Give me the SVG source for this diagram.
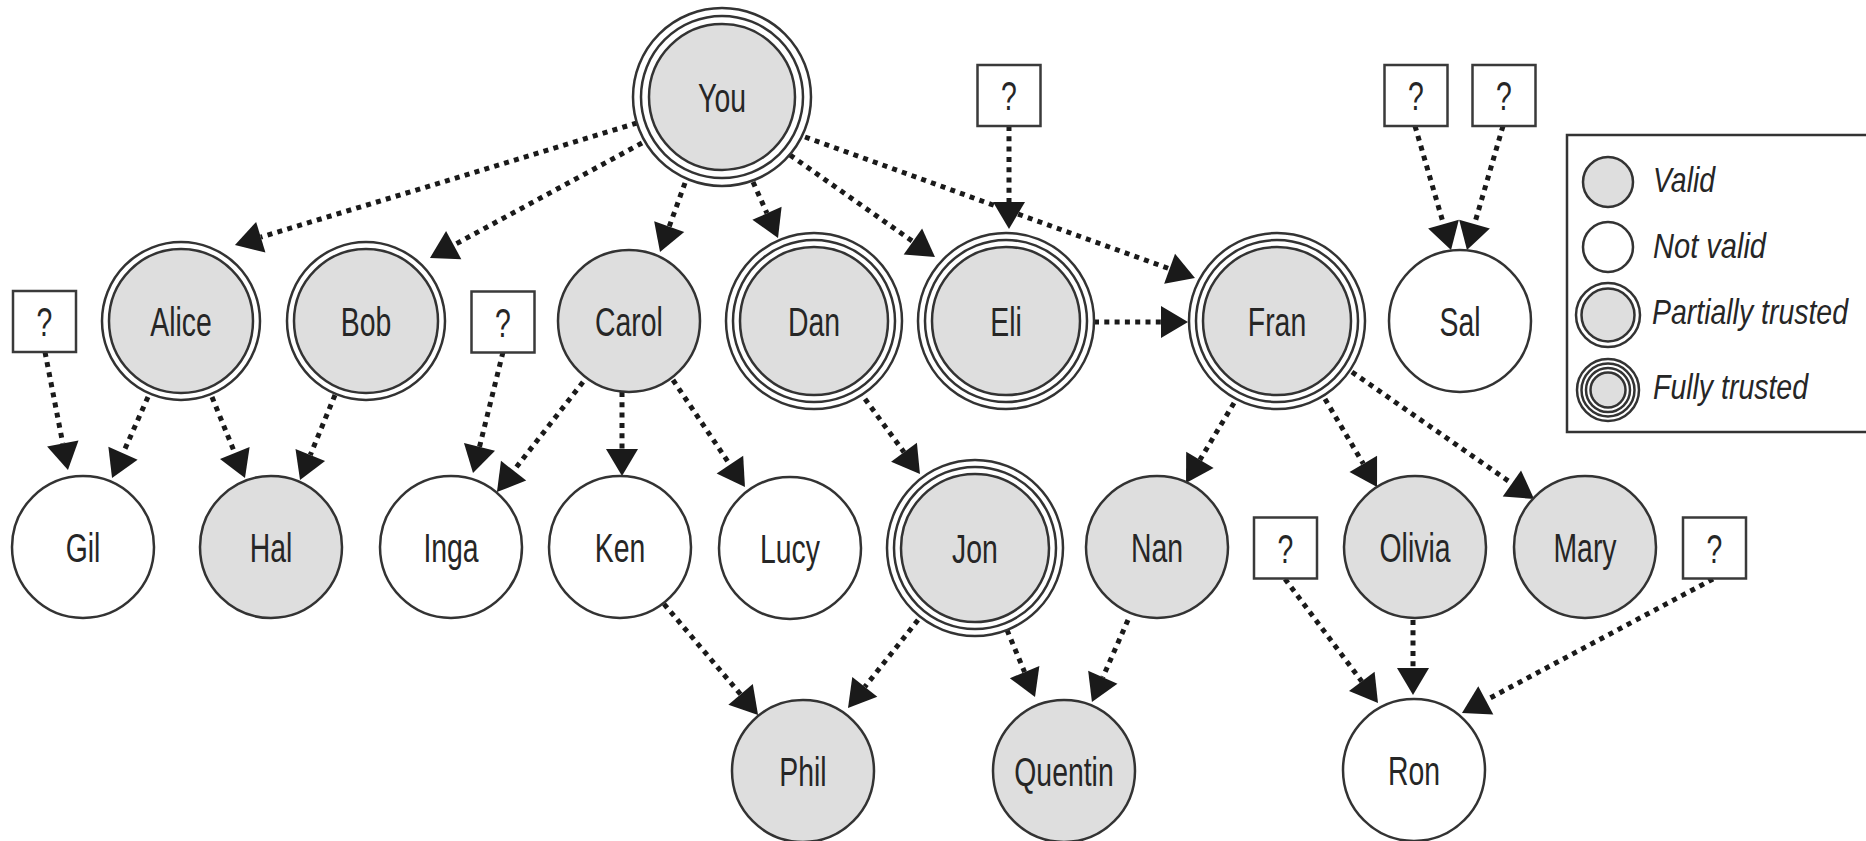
<svg xmlns="http://www.w3.org/2000/svg" width="1866" height="841" viewBox="0 0 1866 841">
  <style>
    .ring { fill: #ffffff; stroke: #333333; stroke-width: 2.5; }
    .valid { fill: #dedede; stroke: #333333; stroke-width: 2.5; }
    .invalid { fill: #ffffff; stroke: #333333; stroke-width: 2.5; }
    .qbox { fill: #ffffff; stroke: #3a3a3a; stroke-width: 2.5; }
    .lbl { font-family: "Liberation Sans", Arial, sans-serif; font-size: 40px; fill: #262626; text-anchor: middle; }
    .leg { font-family: "Liberation Sans", Arial, sans-serif; font-size: 35px; font-style: italic; fill: #262626; }
    .edge { fill: none; stroke: #1a1a1a; stroke-width: 5; stroke-dasharray: 5 5.3; marker-end: url(#arrow); }
  </style>
  <defs>
    <marker id="arrow" markerUnits="userSpaceOnUse" markerWidth="28" markerHeight="32" refX="0" refY="16" orient="auto" overflow="visible">
      <path d="M0,0 L27,16 L0,32 Z" fill="#1a1a1a"/>
    </marker>
  </defs>
  <rect width="1866" height="841" fill="#ffffff"/>

  <!-- connectors: each line stops at the arrowhead base, the marker adds the head -->
  <g id="connectors">
    <line class="edge" x1="637" y1="123" x2="260.8" y2="237.2"/>
    <line class="edge" x1="642" y1="143" x2="453.7" y2="245.1"/>
    <line class="edge" x1="685" y1="183" x2="669.2" y2="226.6"/>
    <line class="edge" x1="753" y1="182" x2="767" y2="213.3"/>
    <line class="edge" x1="790" y1="155" x2="912.9" y2="241.5"/>
    <line class="edge" x1="805" y1="137" x2="1169.6" y2="268.8"/>
    <line class="edge" x1="1009" y1="126" x2="1009" y2="202"/>
    <line class="edge" x1="1094" y1="322" x2="1161" y2="322"/>
    <line class="edge" x1="1415" y1="126" x2="1443.5" y2="224.1"/>
    <line class="edge" x1="1503" y1="126" x2="1474.5" y2="224.1"/>
    <line class="edge" x1="45" y1="352" x2="62.8" y2="443.5"/>
    <line class="edge" x1="148" y1="397" x2="123" y2="453.3"/>
    <line class="edge" x1="212" y1="397" x2="234.8" y2="453"/>
    <line class="edge" x1="335" y1="395" x2="310.3" y2="455"/>
    <line class="edge" x1="503" y1="352" x2="479.5" y2="446.8"/>
    <line class="edge" x1="583" y1="382" x2="513.6" y2="470.7"/>
    <line class="edge" x1="622" y1="392" x2="622" y2="449"/>
    <line class="edge" x1="673" y1="380" x2="729.9" y2="464.6"/>
    <line class="edge" x1="865" y1="399" x2="904" y2="452.2"/>
    <line class="edge" x1="664" y1="604" x2="740.6" y2="694.4"/>
    <line class="edge" x1="918" y1="620" x2="864.8" y2="686.9"/>
    <line class="edge" x1="1007" y1="630" x2="1024.6" y2="672.1"/>
    <line class="edge" x1="1128" y1="620" x2="1102.8" y2="677.3"/>
    <line class="edge" x1="1234" y1="403" x2="1199.9" y2="459.9"/>
    <line class="edge" x1="1325" y1="399" x2="1363.3" y2="463.8"/>
    <line class="edge" x1="1352" y1="372" x2="1511.9" y2="483.5"/>
    <line class="edge" x1="1285" y1="579" x2="1361.8" y2="681.4"/>
    <line class="edge" x1="1413" y1="620" x2="1413" y2="668"/>
    <line class="edge" x1="1713" y1="579" x2="1485.8" y2="700.3"/>
  </g>

  <!-- fully trusted -->
  <g id="node-you" transform="translate(722,97)">
    <circle class="ring" r="89"/><circle class="ring" r="81"/><circle class="valid" r="73"/>
    <text class="lbl" transform="scale(0.71,1)" y="14.5">You</text>
  </g>
  <g id="node-dan" transform="translate(814,321)">
    <circle class="ring" r="88"/><circle class="ring" r="81"/><circle class="valid" r="74"/>
    <text class="lbl" transform="scale(0.71,1)" y="14.5">Dan</text>
  </g>
  <g id="node-eli" transform="translate(1006,321)">
    <circle class="ring" r="88"/><circle class="ring" r="81"/><circle class="valid" r="74"/>
    <text class="lbl" transform="scale(0.71,1)" y="14.5">Eli</text>
  </g>
  <g id="node-fran" transform="translate(1277,321)">
    <circle class="ring" r="88"/><circle class="ring" r="81"/><circle class="valid" r="74"/>
    <text class="lbl" transform="scale(0.71,1)" y="14.5">Fran</text>
  </g>
  <g id="node-jon" transform="translate(975,548)">
    <circle class="ring" r="88"/><circle class="ring" r="81"/><circle class="valid" r="74"/>
    <text class="lbl" transform="scale(0.71,1)" y="14.5">Jon</text>
  </g>

  <!-- partially trusted -->
  <g id="node-alice" transform="translate(181,321)">
    <circle class="ring" r="79"/><circle class="valid" r="72"/>
    <text class="lbl" transform="scale(0.71,1)" y="14.5">Alice</text>
  </g>
  <g id="node-bob" transform="translate(366,321)">
    <circle class="ring" r="79"/><circle class="valid" r="72"/>
    <text class="lbl" transform="scale(0.71,1)" y="14.5">Bob</text>
  </g>

  <!-- valid -->
  <g id="node-carol" transform="translate(629,321)">
    <circle class="valid" r="71"/>
    <text class="lbl" transform="scale(0.71,1)" y="14.5">Carol</text>
  </g>
  <g id="node-hal" transform="translate(271,547)">
    <circle class="valid" r="71"/>
    <text class="lbl" transform="scale(0.71,1)" y="14.5">Hal</text>
  </g>
  <g id="node-nan" transform="translate(1157,547)">
    <circle class="valid" r="71"/>
    <text class="lbl" transform="scale(0.71,1)" y="14.5">Nan</text>
  </g>
  <g id="node-olivia" transform="translate(1415,547)">
    <circle class="valid" r="71"/>
    <text class="lbl" transform="scale(0.71,1)" y="14.5">Olivia</text>
  </g>
  <g id="node-mary" transform="translate(1585,547)">
    <circle class="valid" r="71"/>
    <text class="lbl" transform="scale(0.71,1)" y="14.5">Mary</text>
  </g>
  <g id="node-phil" transform="translate(803,771)">
    <circle class="valid" r="71"/>
    <text class="lbl" transform="scale(0.71,1)" y="14.5">Phil</text>
  </g>
  <g id="node-quentin" transform="translate(1064,771)">
    <circle class="valid" r="71"/>
    <text class="lbl" transform="scale(0.71,1)" y="14.5">Quentin</text>
  </g>

  <!-- not valid -->
  <g id="node-sal" transform="translate(1460,321)">
    <circle class="invalid" r="71"/>
    <text class="lbl" transform="scale(0.71,1)" y="14.5">Sal</text>
  </g>
  <g id="node-gil" transform="translate(83,547)">
    <circle class="invalid" r="71"/>
    <text class="lbl" transform="scale(0.71,1)" y="14.5">Gil</text>
  </g>
  <g id="node-inga" transform="translate(451,547)">
    <circle class="invalid" r="71"/>
    <text class="lbl" transform="scale(0.71,1)" y="14.5">Inga</text>
  </g>
  <g id="node-ken" transform="translate(620,547)">
    <circle class="invalid" r="71"/>
    <text class="lbl" transform="scale(0.71,1)" y="14.5">Ken</text>
  </g>
  <g id="node-lucy" transform="translate(790,548)">
    <circle class="invalid" r="71"/>
    <text class="lbl" transform="scale(0.71,1)" y="14.5">Lucy</text>
  </g>
  <g id="node-ron" transform="translate(1414,770)">
    <circle class="invalid" r="71"/>
    <text class="lbl" transform="scale(0.71,1)" y="14.5">Ron</text>
  </g>

  <!-- unknown signers -->
  <g id="unknown-gil" transform="translate(44.5,321.5)">
    <rect class="qbox" x="-31.5" y="-30.5" width="63" height="61"/>
    <text class="lbl" transform="scale(0.71,1)" y="14.5">?</text>
  </g>
  <g id="unknown-inga" transform="translate(503,322)">
    <rect class="qbox" x="-31.5" y="-30.5" width="63" height="61"/>
    <text class="lbl" transform="scale(0.71,1)" y="14.5">?</text>
  </g>
  <g id="unknown-eli" transform="translate(1009,95.5)">
    <rect class="qbox" x="-31.5" y="-30.5" width="63" height="61"/>
    <text class="lbl" transform="scale(0.71,1)" y="14.5">?</text>
  </g>
  <g id="unknown-sal-1" transform="translate(1416,95.5)">
    <rect class="qbox" x="-31.5" y="-30.5" width="63" height="61"/>
    <text class="lbl" transform="scale(0.71,1)" y="14.5">?</text>
  </g>
  <g id="unknown-sal-2" transform="translate(1504,95.5)">
    <rect class="qbox" x="-31.5" y="-30.5" width="63" height="61"/>
    <text class="lbl" transform="scale(0.71,1)" y="14.5">?</text>
  </g>
  <g id="unknown-ron-1" transform="translate(1285.5,548)">
    <rect class="qbox" x="-31.5" y="-30.5" width="63" height="61"/>
    <text class="lbl" transform="scale(0.71,1)" y="14.5">?</text>
  </g>
  <g id="unknown-ron-2" transform="translate(1714.5,548)">
    <rect class="qbox" x="-31.5" y="-30.5" width="63" height="61"/>
    <text class="lbl" transform="scale(0.71,1)" y="14.5">?</text>
  </g>

  <!-- legend -->
  <g id="legend">
    <rect x="1567" y="135" width="320" height="297" fill="#ffffff" stroke="#333333" stroke-width="2.5"/>
    <circle class="valid" cx="1608" cy="182" r="25"/>
    <text class="leg" x="1653" y="192" textLength="62" lengthAdjust="spacingAndGlyphs">Valid</text>
    <circle class="invalid" cx="1608" cy="247" r="25"/>
    <text class="leg" x="1653" y="258" textLength="113" lengthAdjust="spacingAndGlyphs">Not valid</text>
    <circle class="ring" cx="1608" cy="315" r="32"/>
    <circle class="valid" cx="1608" cy="315" r="26.5"/>
    <text class="leg" x="1652" y="324" textLength="196" lengthAdjust="spacingAndGlyphs">Partially trusted</text>
    <circle class="ring" cx="1608" cy="390" r="31" stroke-width="2"/>
    <circle class="ring" cx="1608" cy="390" r="26.5" stroke-width="2"/>
    <circle class="ring" cx="1608" cy="390" r="22" stroke-width="2"/>
    <circle class="valid" cx="1608" cy="390" r="17.5" stroke-width="2"/>
    <text class="leg" x="1653" y="399" textLength="155" lengthAdjust="spacingAndGlyphs">Fully trusted</text>
  </g>
</svg>
